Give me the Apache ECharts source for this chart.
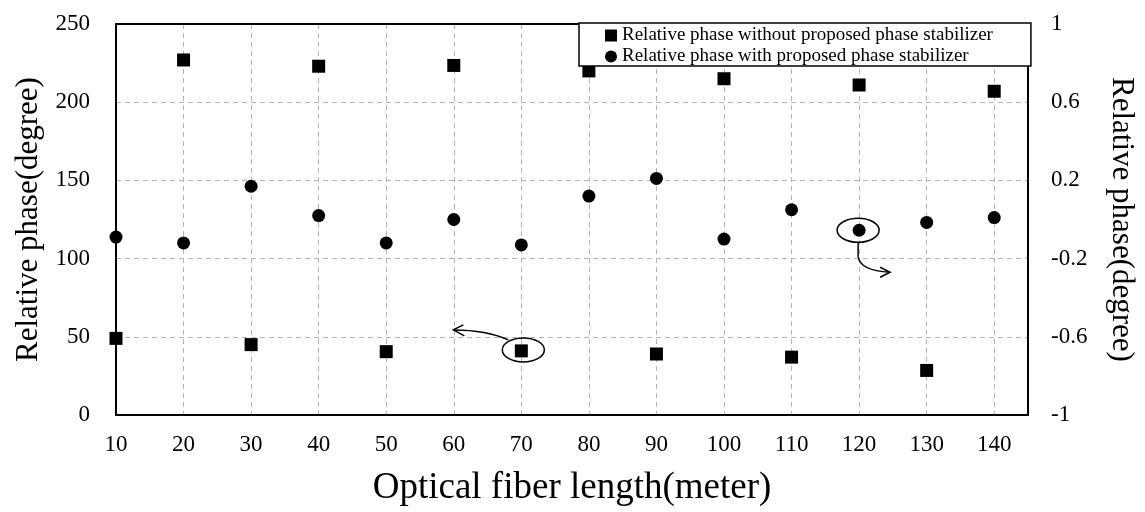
<!DOCTYPE html>
<html>
<head>
<meta charset="utf-8">
<script src="https://cdn.jsdelivr.net/npm/echarts@6/dist/echarts.min.js"></script>
<style>html,body{margin:0;padding:0;background:#fff}#c{width:1145px;height:512px}</style>
</head>
<body>
<div id="c"></div>
<script>
const lengths = [10, 20, 30, 40, 50, 60, 70, 80, 90, 100, 110, 120, 130, 140];
const withoutStabilizer = [49, 227, 45, 223, 40.5, 223.5, 41, 220, 39, 215, 37, 211, 28.5, 207];
const withStabilizer = [-0.09, -0.12, 0.17, 0.02, -0.12, 0.0, -0.13, 0.12, 0.21, -0.10, 0.05, -0.055, -0.015, 0.01];
const seriesNames = ['Relative phase without proposed phase stabilizer', 'Relative phase with proposed phase stabilizer'];
const xTitle = 'Optical fiber length(meter)';
const yTitle = 'Relative phase(degree)';

const FONT = 'Liberation Serif';
const chart = echarts.init(document.getElementById('c'));
const gridLine = { show: true, lineStyle: { color: '#b5b5b5', type: [5, 4], width: 1 } };
const axisTxt = { color: '#000', fontFamily: FONT, fontSize: 23 };
const blackLine = { show: true, onZero: false, lineStyle: { color: '#000', width: 2 } };

chart.setOption({
  animation: false,
  backgroundColor: '#fff',
  grid: { left: 116, right: 114, top: 24, bottom: 88, show: false },
  legend: {
    left: 579, top: 23, orient: 'vertical',
    padding: [3, 38, 0, 26], itemGap: 2, itemWidth: 12, itemHeight: 12,
    backgroundColor: '#fff', borderColor: '#000', borderWidth: 1.5,
    textStyle: { color: '#000', fontFamily: FONT, fontSize: 19 },
    data: [{ name: seriesNames[0], icon: 'rect' }, { name: seriesNames[1], icon: 'circle' }]
  },
  xAxis: [{
    type: 'value', min: 10, max: 145, interval: 10,
    name: xTitle, nameLocation: 'middle', nameGap: 55,
    nameTextStyle: { color: '#000', fontFamily: FONT, fontSize: 37 },
    axisLine: blackLine,
    axisTick: { show: false },
    axisLabel: Object.assign({ margin: 18, showMaxLabel: false, formatter: v => (v % 10 === 0 ? String(v) : '') }, axisTxt),
    splitLine: gridLine
  }, {
    type: 'value', min: 10, max: 145, interval: 10, position: 'top',
    axisLine: blackLine, axisTick: { show: false }, axisLabel: { show: false }, splitLine: { show: false }
  }],
  yAxis: [{
    type: 'value', min: 0, max: 250, interval: 50,
    name: yTitle, nameLocation: 'middle', nameGap: 72, nameRotate: 90,
    nameTextStyle: { color: '#000', fontFamily: FONT, fontSize: 31 },
    axisLine: blackLine,
    axisTick: { show: false },
    axisLabel: Object.assign({ margin: 26 }, axisTxt),
    splitLine: gridLine
  }, {
    type: 'value', min: -1, max: 1, interval: 0.4, position: 'right',
    name: yTitle, nameLocation: 'middle', nameGap: 78, nameRotate: -90,
    nameTextStyle: { color: '#000', fontFamily: FONT, fontSize: 31 },
    axisLine: blackLine,
    axisTick: { show: false },
    axisLabel: Object.assign({ margin: 23, formatter: v => String(Math.round(v * 10) / 10) }, axisTxt),
    splitLine: { show: false }
  }],
  series: [{
    name: seriesNames[0], type: 'scatter', yAxisIndex: 0, symbol: 'rect', symbolSize: 13, clip: false,
    itemStyle: { color: '#000', opacity: 1 },
    data: lengths.map((x, i) => [x, withoutStabilizer[i]])
  }, {
    name: seriesNames[1], type: 'scatter', yAxisIndex: 1, symbol: 'circle', symbolSize: 13, clip: false,
    itemStyle: { color: '#000', opacity: 1 },
    data: lengths.map((x, i) => [x, withStabilizer[i]])
  }]
});

// annotations anchored to data points
const pSq = chart.convertToPixel({ xAxisIndex: 0, yAxisIndex: 0 }, [lengths[6], withoutStabilizer[6]]);
const pCi = chart.convertToPixel({ xAxisIndex: 0, yAxisIndex: 1 }, [lengths[11], withStabilizer[11]]);
const st = { stroke: '#000', lineWidth: 1.5, fill: null };
const g = [];
function ell(p, dx, dy) {
  g.push({ type: 'ellipse', shape: { cx: p[0] + dx, cy: p[1] + dy, rx: 21, ry: 12 }, style: st, z: 10, silent: true });
}
function bez(p, a, c1, c2, b) {
  g.push({ type: 'bezierCurve', shape: { x1: p[0] + a[0], y1: p[1] + a[1], cpx1: p[0] + c1[0], cpy1: p[1] + c1[1], cpx2: p[0] + c2[0], cpy2: p[1] + c2[1], x2: p[0] + b[0], y2: p[1] + b[1] }, style: st, z: 10, silent: true });
}
function head(p, pts) {
  g.push({ type: 'polyline', shape: { points: pts.map(q => [p[0] + q[0], p[1] + q[1]]) }, style: st, z: 10, silent: true });
}
ell(pSq, 2, -1);
bez(pSq, [-13, -11], [-28, -18], [-48, -21], [-68, -21]);
head(pSq, [[-58, -26], [-68, -21], [-57, -15]]);
ell(pCi, -1, 0);
g.push({ type: 'line', shape: { x1: pCi[0] - 1, y1: pCi[1] + 12, x2: pCi[0] - 1, y2: pCi[1] + 26 }, style: st, z: 10, silent: true });
bez(pCi, [-1, 26], [0, 36], [12, 41], [31, 42]);
head(pCi, [[21, 37], [31, 42], [21, 47]]);
chart.setOption({ graphic: g });
</script>
</body>
</html>
